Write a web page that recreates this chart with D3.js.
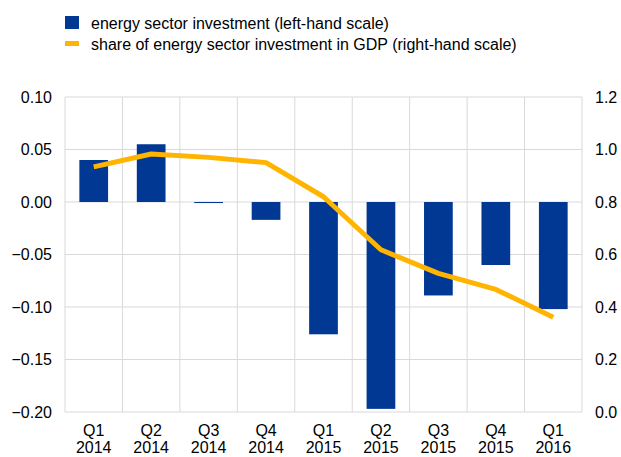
<!DOCTYPE html>
<html><head><meta charset="utf-8">
<script src="https://cdn.jsdelivr.net/npm/d3@7"></script>
<style>body{margin:0;background:#fff;} text{font-family:"Liberation Sans",Arial,sans-serif;}</style>
</head><body>
<svg id="c" width="621" height="457"></svg>
<script>
const quarters = ["Q1","Q2","Q3","Q4","Q1","Q2","Q3","Q4","Q1"];
const years = ["2014","2014","2014","2014","2015","2015","2015","2015","2016"];
const investment = [0.040, 0.055, -0.001, -0.017, -0.126, -0.197, -0.089, -0.060, -0.102];
const share = [0.934, 0.983, 0.970, 0.950, 0.820, 0.618, 0.528, 0.467, 0.361];
const leftTicks = [0.10, 0.05, 0.00, -0.05, -0.10, -0.15, -0.20];
const rightTicks = [1.2, 1.0, 0.8, 0.6, 0.4, 0.2, 0.0];
const seriesNames = ["energy sector investment (left-hand scale)", "share of energy sector investment in GDP (right-hand scale)"];

const svg = d3.select("#c");
const L = 65, R = 582, T = 97, B = 412;
const idx = d3.range(quarters.length);
const x = d3.scaleBand().domain(idx).range([L, R]).paddingInner(0).paddingOuter(0);
const yL = d3.scaleLinear().domain([-0.20, 0.10]).range([B, T]);
const yR = d3.scaleLinear().domain([0, 1.2]).range([B, T]);
const blue = "#003894", gold = "#FFB400", grid = "#d9d9d9";
const FS = 16;

// gridlines
svg.append("g").selectAll("line").data(leftTicks).join("line")
  .attr("x1", L).attr("x2", R).attr("y1", d => yL(d)).attr("y2", d => yL(d))
  .attr("stroke", grid).attr("stroke-width", 1);
svg.append("g").selectAll("line").data(d3.range(quarters.length + 1)).join("line")
  .attr("x1", d => L + d * x.step()).attr("x2", d => L + d * x.step())
  .attr("y1", T).attr("y2", B).attr("stroke", grid).attr("stroke-width", 1);

// bars
const bw = x.bandwidth() * 0.5;
svg.append("g").selectAll("rect").data(idx).join("rect")
  .attr("x", i => x(i) + (x.bandwidth() - bw) / 2)
  .attr("width", bw)
  .attr("y", i => Math.min(yL(investment[i]), yL(0)))
  .attr("height", i => Math.max(Math.abs(yL(investment[i]) - yL(0)), 1))
  .attr("fill", blue);

// line
const line = d3.line().x(i => x(i) + x.bandwidth() / 2).y(i => yR(share[i]));
svg.append("path").datum(idx).attr("d", line)
  .attr("fill", "none").attr("stroke", gold).attr("stroke-width", 5).attr("stroke-linejoin", "round");

// left axis labels
const axL = d3.axisLeft(yL).tickValues(leftTicks).tickFormat(d3.format(".2f")).tickSize(0).tickPadding(13);
const gL = svg.append("g").attr("transform", `translate(${L},0)`).call(axL);
gL.select(".domain").remove();
gL.selectAll("text").attr("font-size", FS).attr("fill", "#000").style("font-family", "Liberation Sans, Arial, sans-serif");

const axR = d3.axisRight(yR).tickValues(rightTicks).tickFormat(d3.format(".1f")).tickSize(0).tickPadding(13);
const gR = svg.append("g").attr("transform", `translate(${R},0)`).call(axR);
gR.select(".domain").remove();
gR.selectAll("text").attr("font-size", FS).attr("fill", "#000").style("font-family", "Liberation Sans, Arial, sans-serif");

// x labels
const xl = svg.append("g");
xl.selectAll("text.q").data(idx).join("text").attr("class", "q")
  .attr("x", i => x(i) + x.bandwidth() / 2).attr("y", 436).attr("text-anchor", "middle")
  .attr("font-size", FS).text(i => quarters[i]);
xl.selectAll("text.y").data(idx).join("text").attr("class", "y")
  .attr("x", i => x(i) + x.bandwidth() / 2).attr("y", 453).attr("text-anchor", "middle")
  .attr("font-size", FS).text(i => years[i]);

// legend
svg.append("rect").attr("x", 65).attr("y", 16).attr("width", 14).attr("height", 13).attr("fill", blue);
svg.append("rect").attr("x", 65).attr("y", 41).attr("width", 14).attr("height", 5).attr("fill", gold);
svg.append("text").attr("x", 91).attr("y", 29).attr("font-size", FS).text(seriesNames[0]);
svg.append("text").attr("x", 91).attr("y", 50).attr("font-size", FS).text(seriesNames[1]);
</script>
</body></html>
